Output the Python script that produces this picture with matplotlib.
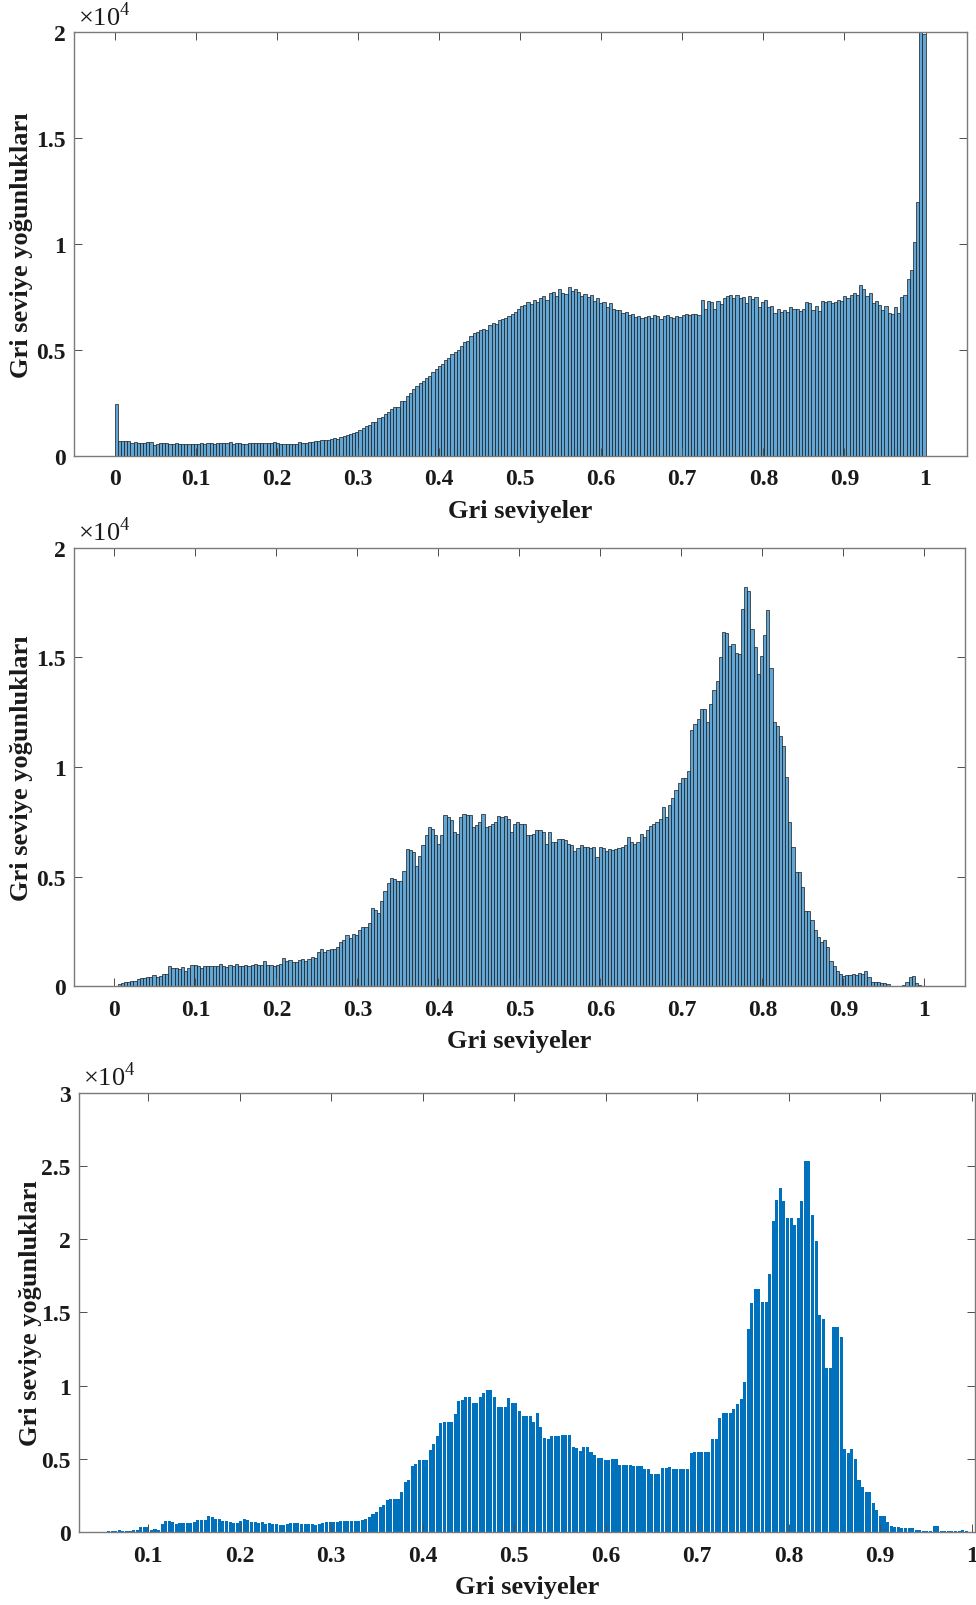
import numpy as np
import matplotlib.pyplot as plt

plt.rcParams["font.family"] = ["Liberation Serif", "DejaVu Serif"]
plt.rcParams["mathtext.fontset"] = "custom"
plt.rcParams["mathtext.rm"] = "Liberation Serif"

# --- data: 256-bin grey level histograms (counts per bin) -------------------
N_BINS = 256

counts_top = [
    2440, 680, 680, 700, 690, 580, 630, 610, 620, 600, 660, 640, 520, 560, 620, 600,
    590, 560, 570, 580, 560, 560, 550, 560, 570, 560, 570, 580, 560, 590, 600, 570,
    580, 590, 580, 600, 660, 560, 580, 590, 570, 560, 600, 590, 580, 590, 600, 620,
    580, 590, 640, 580, 560, 570, 550, 540, 560, 570, 650, 620, 610, 630, 660, 680,
    700, 720, 720, 760, 780, 830, 800, 880, 940, 960, 1020, 1070, 1120, 1200, 1290, 1400,
    1440, 1600, 1580, 1800, 1820, 1950, 2050, 2200, 2300, 2300, 2570, 2600, 2800, 2950, 3150, 3300,
    3450, 3550, 3650, 3750, 3950, 4100, 4250, 4350, 4500, 4600, 4800, 4900, 5000, 5200, 5350, 5400,
    5650, 5800, 5850, 5950, 6000, 5950, 6150, 6250, 6200, 6400, 6450, 6500, 6600, 6700, 6800, 6950,
    7050, 7100, 7250, 7150, 7350, 7250, 7450, 7550, 7350, 7700, 7750, 7550, 7850, 7700, 7650, 7950,
    7800, 7850, 7750, 7550, 7650, 7500, 7600, 7300, 7450, 7200, 7250, 7000, 7200, 6950, 6900, 6900,
    6750, 6800, 6650, 6700, 6550, 6600, 6500, 6550, 6600, 6500, 6650, 6600, 6450, 6600, 6650, 6550,
    6500, 6600, 6550, 6650, 6700, 6650, 6700, 6700, 6650, 7350, 6950, 7300, 7250, 6950, 7300, 7150,
    7450, 7550, 7600, 7450, 7600, 7450, 7500, 7200, 7550, 7400, 7500, 7000, 7250, 7350, 7000, 7050,
    6750, 6950, 6800, 6900, 6800, 7000, 6950, 6950, 6850, 6950, 7250, 7200, 6900, 7050, 6850, 7300,
    7250, 7300, 7200, 7250, 7350, 7300, 7550, 7450, 7600, 7700, 7600, 8050, 7850, 7550, 7700, 7200,
    7300, 7100, 6900, 7050, 6750, 6700, 7000, 6750, 7500, 7600, 8350, 8750, 10100, 12000, 22000, 19900,
]

counts_mid = [
    30, 80, 130, 170, 190, 220, 260, 330, 360, 380, 420, 430, 500, 430, 480, 540,
    560, 940, 820, 820, 790, 880, 700, 830, 970, 960, 920, 840, 920, 900, 900, 900,
    900, 1000, 930, 880, 960, 920, 1000, 940, 930, 960, 900, 960, 1000, 960, 960, 1130,
    960, 960, 900, 980, 1000, 1280, 1150, 1200, 1100, 1120, 1200, 1240, 1170, 1250, 1330, 1280,
    1560, 1700, 1580, 1640, 1700, 1680, 1780, 2030, 2130, 2330, 2200, 2400, 2330, 2560, 2700, 2700,
    2870, 3560, 3490, 3330, 3870, 4340, 4720, 4950, 4880, 4800, 4800, 5260, 6270, 6200, 6110, 5490,
    5960, 6420, 6880, 7270, 7190, 6880, 6500, 6880, 7810, 7730, 7580, 7040, 6960, 7730, 7840, 7810,
    7810, 7270, 7350, 7500, 7870, 7270, 7300, 7420, 7500, 7760, 7700, 7760, 7650, 7040, 7400, 7500,
    7420, 7400, 6880, 6880, 6950, 7110, 7110, 7050, 6500, 7040, 6570, 6600, 6730, 6700, 6650, 6500,
    6420, 6190, 6300, 6420, 6340, 6340, 6300, 6340, 5880, 6340, 6300, 6190, 6250, 6200, 6270, 6300,
    6340, 6420, 6800, 6570, 6500, 6600, 6960, 6800, 7110, 7300, 7420, 7500, 7650, 8190, 7730, 8270,
    8580, 8970, 9270, 9500, 9500, 9810, 11670, 11980, 12210, 12650, 12650, 12040, 12880, 13490, 13940, 15010,
    16150, 16100, 15510, 15600, 15200, 15150, 17210, 18200, 18050, 16300, 15470, 14250, 15080, 16030, 17180, 14510,
    12040, 11890, 11430, 10950, 9530, 7480, 6340, 5200, 5200, 4520, 3450, 3450, 3020, 2560, 2250, 2020,
    2100, 1790, 1170, 940, 710, 560, 480, 500, 500, 540, 500, 600, 560, 710, 400, 170,
    170, 170, 150, 150, 90, 30, 20, 20, 20, 60, 170, 400, 480, 140, 50, 20,
]

counts_bottom = [
    0, 0, 0, 0, 0, 0, 0, 0, 0, 0, 0, 0, 30, 30, 40, 40,
    60, 120, 100, 60, 60, 150, 170, 330, 340, 330, 170, 180, 170, 580, 770, 760,
    650, 530, 620, 600, 640, 620, 700, 820, 820, 840, 1060, 1050, 890, 880, 770, 720,
    650, 620, 640, 730, 860, 850, 650, 660, 640, 700, 560, 640, 560, 530, 500, 500,
    560, 620, 610, 620, 530, 530, 520, 520, 510, 560, 620, 650, 660, 650, 700, 720,
    730, 770, 770, 770, 770, 800, 890, 1015, 1260, 1380, 1740, 1860, 2180, 2270, 2270, 2270,
    2760, 3430, 3550, 4520, 4640, 4930, 4930, 4930, 5610, 6020, 6570, 7420, 7540, 7540, 7540, 8030,
    8940, 8990, 9230, 9230, 8820, 8820, 9230, 9480, 9670, 9670, 9230, 8510, 8510, 8510, 9160, 8800,
    8800, 8270, 7900, 7900, 7900, 7540, 8150, 7180, 6450, 6380, 6570, 6570, 6570, 6620, 6620, 6620,
    5800, 5730, 5560, 5800, 5800, 5440, 5290, 5080, 5080, 4930, 4930, 5000, 5000, 4590, 4570, 4570,
    4570, 4520, 4520, 4520, 4280, 4280, 3960, 3960, 3960, 4400, 4400, 4450, 4330, 4330, 4330, 4330,
    4330, 5410, 5490, 5490, 5440, 5440, 5440, 6330, 6330, 7780, 8150, 8150, 8150, 8390, 8750, 9060,
    10250, 13870, 15640, 16610, 16610, 15710, 15710, 17650, 21250, 22650, 23500, 22580, 21440, 21440, 20960, 21440,
    22600, 25310, 25310, 21680, 19870, 14840, 14550, 11170, 11170, 14020, 14020, 13290, 5660, 5370, 5660, 5000,
    3550, 3070, 2760, 2760, 1980, 1500, 1060, 1060, 650, 410, 340, 340, 240, 240, 240, 240,
    170, 170, 100, 100, 100, 410, 410, 100, 100, 50, 50, 50, 100, 170, 100, 0,
]

x_ticks_full = [0, 0.1, 0.2, 0.3, 0.4, 0.5, 0.6, 0.7, 0.8, 0.9, 1.0]
x_labels_full = ["0", "0.1", "0.2", "0.3", "0.4", "0.5", "0.6", "0.7", "0.8", "0.9", "1"]
x_ticks_bottom = x_ticks_full[1:]
x_labels_bottom = x_labels_full[1:]

y_ticks_2 = [0, 5000, 10000, 15000, 20000]
y_labels_2 = ["0", "0.5", "1", "1.5", "2"]
y_ticks_3 = [0, 5000, 10000, 15000, 20000, 25000, 30000]
y_labels_3 = ["0", "0.5", "1", "1.5", "2", "2.5", "3"]

XLABEL = "Gri seviyeler"
YLABEL = "Gri seviye yoğunlukları"

HIST_FACE = "#62A6D6"
BAR_FACE = "#0072BD"
TEXT_COL = "#1a1a1a"


def style_axes(ax, xticks, xlabels, yticks, ylabels, xlim, ylim, ylab_x):
    ax.set_xlim(*xlim)
    ax.set_ylim(*ylim)
    ax.set_xticks(xticks)
    ax.set_xticklabels(xlabels, fontweight="bold")
    ax.set_yticks(yticks)
    ax.set_yticklabels(ylabels, fontweight="bold")
    ax.tick_params(direction="in", top=True, right=True, length=6, width=0.7,
                   color="#4d4d4d", labelcolor=TEXT_COL, labelsize=17)
    ax.tick_params(axis="x", pad=9)
    ax.tick_params(axis="y", pad=6)
    for s in ax.spines.values():
        s.set_color("#7a7a7a")
        s.set_linewidth(1.0)
    ax.set_xlabel(XLABEL, fontsize=19, fontweight="bold", color=TEXT_COL, labelpad=7)
    ax.set_ylabel(YLABEL, fontsize=19, fontweight="bold", color=TEXT_COL)
    ax.yaxis.set_label_coords(ylab_x, 0.5)
    ax.text(0.004, 1.006, r"$\times10^{4}$", transform=ax.transAxes,
            ha="left", va="bottom", fontsize=19, color=TEXT_COL)


fig = plt.figure(figsize=(9.76, 16.06), dpi=100)
fig.patch.set_facecolor("white")

left_edges = np.arange(N_BINS) / N_BINS
width = 1.0 / N_BINS

# top: histogram with outlined bins
ax1 = fig.add_axes([0.0758, 0.7156, 0.9153, 0.2638])
ax1.bar(left_edges, counts_top, width=width, align="edge", color=HIST_FACE,
        edgecolor="#1a1a1a", linewidth=0.5)
style_axes(ax1, x_ticks_full, x_labels_full, y_ticks_2, y_labels_2,
           (-0.05, 1.0515), (0, 20000), -0.046)

# middle
ax2 = fig.add_axes([0.0758, 0.3853, 0.9132, 0.2730])
ax2.bar(left_edges, counts_mid, width=width, align="edge", color=HIST_FACE,
        edgecolor="#1a1a1a", linewidth=0.5)
style_axes(ax2, x_ticks_full, x_labels_full, y_ticks_2, y_labels_2,
           (-0.05, 1.0505), (0, 20000), -0.046)

# bottom: plain bar chart
ax3 = fig.add_axes([0.0809, 0.04545, 0.9185, 0.2735])
ax3.bar(left_edges + width / 2, counts_bottom, width=0.85 * width, color=BAR_FACE,
        linewidth=0)
style_axes(ax3, x_ticks_bottom, x_labels_bottom, y_ticks_3, y_labels_3,
           (0.0243, 1.0042), (0, 30000), -0.041)

fig.savefig("out.png", dpi=100)
